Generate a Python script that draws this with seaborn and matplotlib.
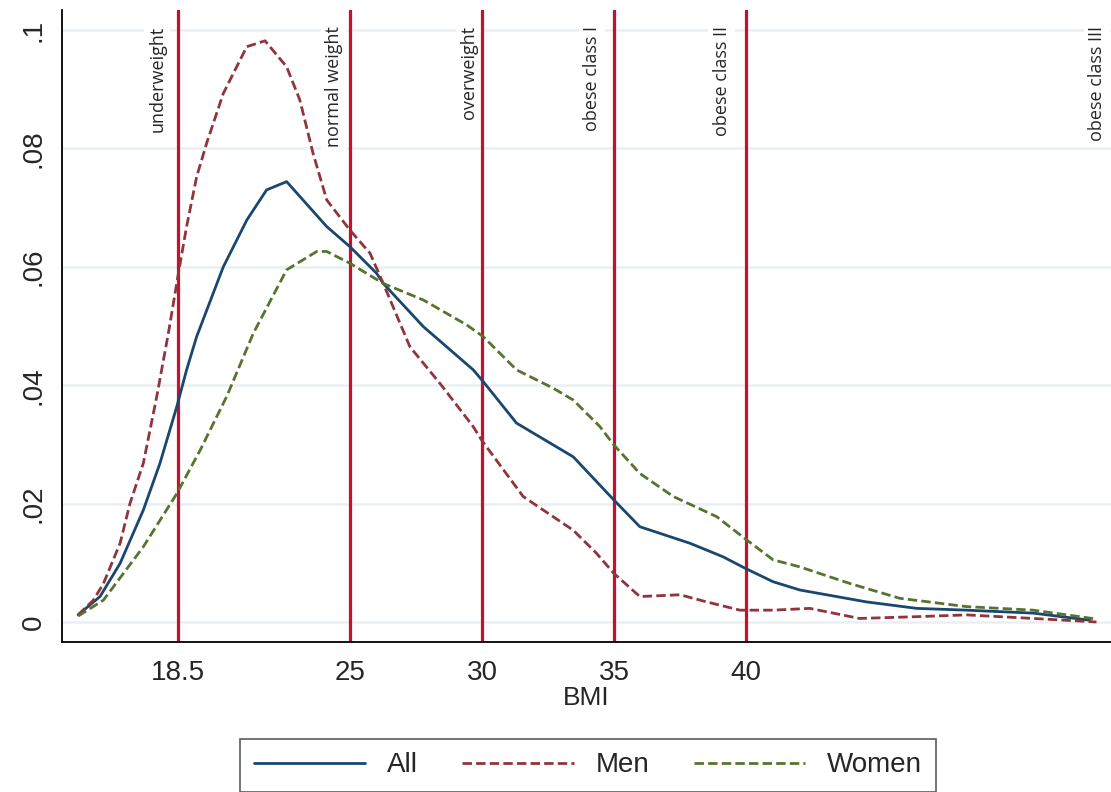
import numpy as np
import pandas as pd
import matplotlib
matplotlib.use("Agg")
import matplotlib.pyplot as plt
import seaborn as sns

# ---- data ----
all_x = [14.7, 15.53, 16.29, 17.17, 17.8, 18.44, 18.81, 19.19, 20.2, 21.09, 21.84, 22.6,
         24.12, 25.0, 26.01, 26.26, 27.78, 29.67, 30.05, 31.31, 33.46, 35.0, 35.98,
         37.88, 39.14, 39.96, 41.03, 42.05, 44.56, 46.47, 48.36, 50.88, 53.03]
all_y = [0.0012, 0.0043, 0.0099, 0.0189, 0.0268, 0.0364, 0.0426, 0.0482, 0.060, 0.0679,
         0.0730, 0.0744, 0.0668, 0.0634, 0.0589, 0.0572, 0.0499, 0.0426, 0.0406,
         0.0336, 0.0279, 0.0206, 0.0161, 0.0133, 0.0110, 0.0091, 0.0068, 0.0054, 0.0034,
         0.0023, 0.0020, 0.0015, 0.0003]

men_x = [14.7, 15.28, 15.66, 16.29, 16.67, 17.17, 17.68, 18.12, 18.5, 18.81, 19.19, 19.57,
         20.2, 21.09, 21.78, 22.6, 23.1, 23.6, 24.12, 25.0, 25.76, 26.26, 27.27, 28.41,
         29.67, 29.99, 31.56, 33.46, 34.34, 35.0, 35.98, 37.5, 38.51, 39.77, 41.03, 42.42,
         44.3, 46.47, 48.36, 50.88, 53.28]
men_y = [0.0012, 0.0037, 0.0065, 0.0133, 0.0201, 0.0268, 0.0381, 0.0488, 0.0589, 0.0668,
         0.0752, 0.0809, 0.0893, 0.0972, 0.0982, 0.0938, 0.0882, 0.0792, 0.0713, 0.0662,
         0.0623, 0.0572, 0.0465, 0.0403, 0.0330, 0.0307, 0.0212, 0.0155, 0.0116, 0.0082,
         0.0043, 0.0046, 0.0034, 0.0020, 0.0020, 0.0023, 0.0006, 0.0009, 0.0012, 0.0006,
         0.0000]

women_x = [14.7, 15.66, 17.17, 18.44, 19.32, 20.33, 21.34, 22.6, 23.74, 24.12, 25.0, 26.26,
           27.78, 29.42, 30.05, 31.31, 32.7, 33.46, 34.47, 35.0, 35.98, 37.25, 38.89, 39.96,
           41.03, 42.05, 43.94, 45.83, 48.36, 50.88, 53.28]
women_y = [0.0010, 0.0037, 0.0127, 0.0217, 0.0290, 0.0381, 0.0488, 0.0595, 0.0626, 0.0626,
           0.0606, 0.0572, 0.0544, 0.0502, 0.0482, 0.0426, 0.0395, 0.0375, 0.0330, 0.0299,
           0.0251, 0.0212, 0.0178, 0.0141, 0.0105, 0.0093, 0.0065, 0.0040, 0.0026, 0.0020,
           0.0005]

groups = ["All", "Men", "Women"]
cut_points = [18.5, 25, 30, 35, 40, 54.2]
cut_labels = ["underweight", "normal weight", "overweight", "obese class I",
              "obese class II", "obese class III"]
label_x = [17.7, 24.4, 29.5, 34.17, 39.08, 53.3]
x_ticks = [18.5, 25, 30, 35, 40]
x_ticklabels = ["18.5", "25", "30", "35", "40"]
y_ticks = [0, 0.02, 0.04, 0.06, 0.08, 0.1]
y_ticklabels = ["0", ".02", ".04", ".06", ".08", ".1"]

df = pd.concat([
    pd.DataFrame({"BMI": all_x, "density": all_y, "group": "All"}),
    pd.DataFrame({"BMI": men_x, "density": men_y, "group": "Men"}),
    pd.DataFrame({"BMI": women_x, "density": women_y, "group": "Women"}),
], ignore_index=True)

sns.set_style("white")
plt.rcParams["font.family"] = ["Liberation Sans", "DejaVu Sans"]

fig = plt.figure(figsize=(11.11, 7.92), dpi=100)
ax = fig.add_axes([62 / 1111, 1 - 642 / 792, 1 - 62 / 1111, (642 - 10) / 792])

ax.set_xlim(14.09, 53.83)
ax.set_ylim(-0.00338, 0.1034)

for yt in y_ticks:
    ax.axhline(yt, color="#e9f0f3", lw=1.8, zorder=0)

for xc, lx, lab in zip(cut_points, label_x, cut_labels):
    ax.text(lx, 0.1007, lab, rotation=90, ha="center", va="top", fontsize=13,
            family=["Open Sans", "DejaVu Sans"], zorder=1,
            bbox=dict(facecolor="white", edgecolor="none", pad=3))
    ax.axvline(xc, color="#c8102e", lw=2.3, zorder=2)

palette = {"All": "#1a476f", "Men": "#90353b", "Women": "#55752f"}
dashes = {"All": "", "Men": (3.4, 1.5), "Women": (3.4, 1.5)}
sns.lineplot(data=df, x="BMI", y="density", hue="group", style="group",
             hue_order=groups, style_order=groups, palette=palette, dashes=dashes,
             lw=2.0, ax=ax, sort=False, legend=True, zorder=3)

ax.set_xticks(x_ticks)
ax.set_xticklabels(x_ticklabels, fontsize=20)
ax.set_yticks(y_ticks)
ax.set_yticklabels(y_ticklabels, fontsize=20, rotation=90, va="center")
ax.tick_params(axis="both", length=8, width=1.2, color="black", direction="out")
ax.tick_params(axis="x", pad=5)
ax.tick_params(axis="y", pad=3)
ax.set_xlabel("BMI", fontsize=19, labelpad=0)
ax.set_ylabel("")

for s in ["top", "right"]:
    ax.spines[s].set_visible(False)
for s in ["left", "bottom"]:
    ax.spines[s].set_color("black")
    ax.spines[s].set_linewidth(1.3)

leg = ax.legend(loc="lower center", bbox_to_anchor=(588 / 1111, -0.018),
                bbox_transform=fig.transFigure, ncol=3, fontsize=20,
                handlelength=4.0, columnspacing=1.6, handletextpad=0.8,
                frameon=True, fancybox=False, borderpad=0.5)
leg.get_frame().set_edgecolor("#333333")
leg.get_frame().set_linewidth(1.2)
for line in leg.get_lines():
    line.set_linewidth(2.0)
leg.set_title(None)

fig.savefig("out.png", dpi=100, facecolor="white")
